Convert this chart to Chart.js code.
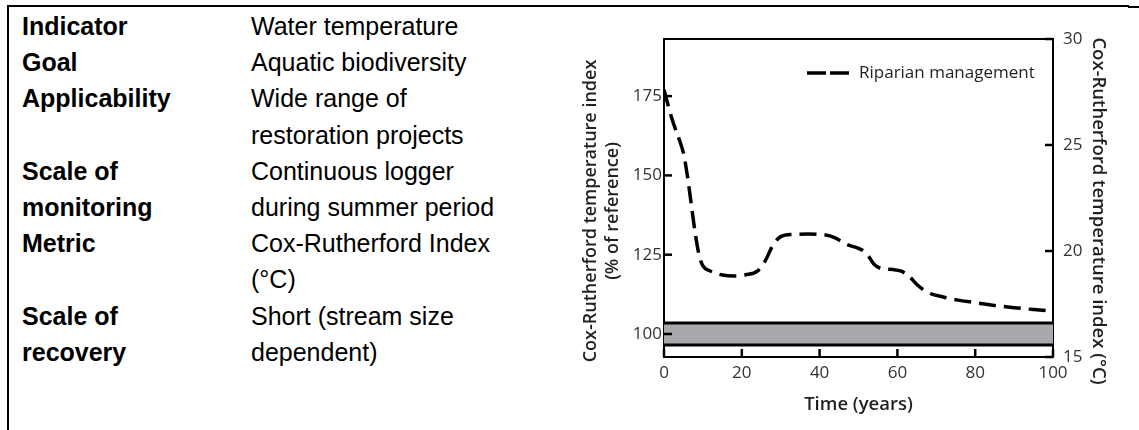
<!DOCTYPE html>
<html lang="en">
<head>
<meta charset="UTF-8" />
<title>Water temperature indicator</title>
<script src="https://cdn.jsdelivr.net/npm/chart.js"></script>
<style>
  html, body { margin: 0; padding: 0; background: #fff; }
  body { width: 1139px; height: 430px; position: relative; overflow: hidden;
         font-family: "Liberation Sans", Arial, sans-serif; }
  #frame { position: absolute; left: 7px; top: 5px; width: 1120px; height: 440px;
           border-top: 2px solid #000; border-left: 2px solid #000; }
  #tail { position: absolute; left: 1128px; top: 6px; width: 11px; border-top: 2px solid #000; }
  #info { position: absolute; left: 22px; top: 8px; border-collapse: collapse;
          font-size: 25px; line-height: 36.2px; color: #000; }
  #info td { padding: 0; vertical-align: top; white-space: nowrap; }
  #info td.lab { font-weight: bold; width: 229px; }
  #chartBox { position: absolute; left: 560px; top: 0; width: 579px; height: 430px; }
</style>
</head>
<body>
  <div id="frame"></div>
  <div id="tail"></div>

  <table id="info">
    <tr><td class="lab">Indicator</td><td>Water temperature</td></tr>
    <tr><td class="lab">Goal</td><td>Aquatic biodiversity</td></tr>
    <tr><td class="lab">Applicability</td><td>Wide range of<br>restoration projects</td></tr>
    <tr><td class="lab">Scale of<br>monitoring</td><td>Continuous logger<br>during summer period</td></tr>
    <tr><td class="lab">Metric</td><td>Cox-Rutherford Index<br>(°C)</td></tr>
    <tr><td class="lab">Scale of<br>recovery</td><td>Short (stream size<br>dependent)</td></tr>
  </table>

  <div id="chartBox"><canvas id="myChart" width="579" height="430"></canvas></div>

<script>
  // DATA
  const years = [0, 2, 4, 5, 6, 7, 8, 9, 10, 12, 15, 18, 21, 24, 26, 28, 30, 33, 37, 41,
                 44, 47, 50, 52, 54, 56, 59, 61, 63, 65, 68, 72, 76, 80, 85, 90, 95, 100];
  const riparian = [177, 168, 161, 157, 150, 141, 132, 125, 121.5, 119.8, 118.6, 118.3, 118.7, 119.8, 123, 128, 130.7, 131.4, 131.5, 131.3,
                    130.3, 128.2, 127, 125.5, 122, 120.6, 120.3, 119.8, 118.2, 115.6, 113, 111.6, 110.6, 109.9, 109, 108.3, 107.7, 107.2];
  const bandYears = [0, 100];
  const bandTop = [103.5, 103.5];
  const bandBottom = [96.5, 96.5];
  const xTicks = [0, 20, 40, 60, 80, 100];
  const leftTicks = [100, 125, 150, 175];
  const rightTicks = [15, 20, 25, 30];
  const seriesLabel = 'Riparian management';
  const leftTitle = ['Cox-Rutherford temperature index', '(% of reference)'];
  const rightTitle = 'Cox-Rutherford temperature index (°C)';
  const xTitle = 'Time (years)';

  const toPoints = (xs, ys) => xs.map((x, i) => ({ x: x, y: ys[i] }));
  const setTicks = (vals) => (scale) => { scale.ticks = vals.map(v => ({ value: v })); };

  Chart.defaults.font.family = '"Open Sans", sans-serif';
  Chart.defaults.color = '#333333';

  // short tick marks pointing into the plot
  const innerTicks = {
    id: 'innerTicks',
    afterDraw(chart) {
      const ctx = chart.ctx, area = chart.chartArea;
      const sx = chart.scales.x, sy = chart.scales.y, sy2 = chart.scales.y2;
      ctx.save();
      ctx.strokeStyle = 'black';
      ctx.lineWidth = 2.5;
      for (const v of xTicks) {
        const px = sx.getPixelForValue(v);
        ctx.beginPath(); ctx.moveTo(px, area.bottom); ctx.lineTo(px, area.bottom - 8); ctx.stroke();
      }
      for (const v of leftTicks) {
        const py = sy.getPixelForValue(v);
        ctx.beginPath(); ctx.moveTo(area.left, py); ctx.lineTo(area.left + 8, py); ctx.stroke();
      }
      for (const v of rightTicks) {
        const py = sy2.getPixelForValue(v);
        ctx.beginPath(); ctx.moveTo(area.right, py); ctx.lineTo(area.right - 8, py); ctx.stroke();
      }
      ctx.restore();
    }
  };

  // side titles + legend drawn inside the plot
  const extras = {
    id: 'extras',
    afterDraw(chart) {
      const ctx = chart.ctx;
      ctx.save();
      ctx.fillStyle = '#231f20';
      ctx.font = '600 18px "Open Sans"';
      ctx.textAlign = 'center';
      ctx.textBaseline = 'middle';
      ctx.save();
      ctx.translate(31, 211);
      ctx.rotate(-Math.PI / 2);
      ctx.fillText(leftTitle[0], 0, 0);
      ctx.fillText(leftTitle[1], 0, 22);
      ctx.restore();
      ctx.save();
      ctx.translate(538, 211);
      ctx.rotate(Math.PI / 2);
      ctx.font = '600 18.5px "Open Sans"';
      ctx.fillText(rightTitle, 0, 0);
      ctx.restore();

      // legend
      const ds = chart.data.datasets[0];
      ctx.strokeStyle = ds.borderColor;
      ctx.lineWidth = ds.borderWidth;
      ctx.setLineDash([19, 4]);
      ctx.beginPath();
      ctx.moveTo(247, 73);
      ctx.lineTo(289, 73);
      ctx.stroke();
      ctx.setLineDash([]);
      ctx.fillStyle = '#231f20';
      ctx.font = '17px "Open Sans"';
      ctx.textAlign = 'left';
      ctx.fillText(ds.label, 299, 73);
      ctx.restore();
    }
  };

  const config = {
    type: 'line',
    data: {
      datasets: [
        {
          label: seriesLabel,
          data: toPoints(years, riparian),
          borderColor: '#000',
          borderWidth: 3.5,
          borderDash: [17, 8],
          pointRadius: 0,
          cubicInterpolationMode: 'monotone',
          xAxisID: 'x', yAxisID: 'y'
        },
        {
          label: 'band top',
          data: toPoints(bandYears, bandTop),
          borderColor: '#000',
          borderWidth: 3,
          pointRadius: 0,
          xAxisID: 'x', yAxisID: 'y'
        },
        {
          label: 'band bottom',
          data: toPoints(bandYears, bandBottom),
          borderColor: '#000',
          borderWidth: 3,
          pointRadius: 0,
          fill: '-1',
          backgroundColor: '#a7a9ac',
          xAxisID: 'x', yAxisID: 'y'
        }
      ]
    },
    options: {
      responsive: false,
      animation: false,
      layout: { padding: { top: 39, left: 0, right: 0, bottom: 0 } },
      plugins: { legend: { display: false }, tooltip: { enabled: false } },
      scales: {
        x: {
          type: 'linear', position: 'bottom', min: 0, max: 100,
          afterBuildTicks: setTicks(xTicks),
          ticks: { font: { size: 17 }, padding: 6 },
          grid: { drawOnChartArea: false, drawTicks: false },
          border: { color: '#000', width: 2 },
          title: { display: true, text: xTitle, color: '#231f20',
                   font: { size: 18.5, weight: '600' }, padding: { top: 0, bottom: 14 } },
          afterFit: (s) => { s.height = 73; }
        },
        xTop: {
          type: 'linear', position: 'top', min: 0, max: 100,
          ticks: { display: false },
          grid: { display: false, drawTicks: false },
          border: { color: '#000', width: 2 },
          afterFit: (s) => { s.height = 0; }
        },
        y: {
          type: 'linear', position: 'left', min: 92.75, max: 193,
          afterBuildTicks: setTicks(leftTicks),
          ticks: { font: { size: 17 }, padding: 2 },
          grid: { drawOnChartArea: false, drawTicks: false },
          border: { color: '#000', width: 2 },
          afterFit: (s) => { s.width = 104; }
        },
        y2: {
          type: 'linear', position: 'right', min: 15, max: 30,
          afterBuildTicks: setTicks(rightTicks),
          ticks: { font: { size: 17 }, padding: 10 },
          grid: { drawOnChartArea: false, drawTicks: false },
          border: { color: '#000', width: 2 },
          afterFit: (s) => { s.width = 86; }
        }
      }
    },
    plugins: [innerTicks, extras]
  };

  let myChart = new Chart(document.getElementById('myChart'), config);
</script>
</body>
</html>
